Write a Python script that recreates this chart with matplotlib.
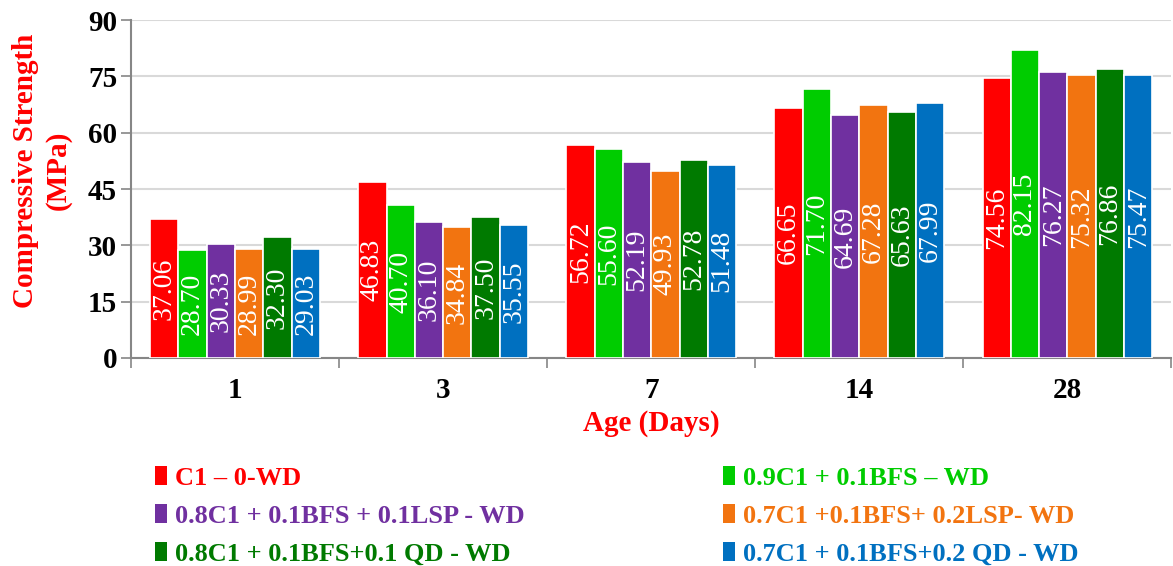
import matplotlib.pyplot as plt
import numpy as np
from matplotlib.patches import Patch

plt.rcParams['font.family'] = ['Liberation Serif', 'DejaVu Serif']

# 龄期与各配比抗压强度 (MPa)
ages = ["1", "3", "7", "14", "28"]
mixes = [
    "C1 – 0-WD",
    "0.9C1 + 0.1BFS – WD",
    "0.8C1 + 0.1BFS + 0.1LSP - WD",
    "0.7C1 +0.1BFS+ 0.2LSP- WD",
    "0.8C1 + 0.1BFS+0.1 QD - WD",
    "0.7C1 + 0.1BFS+0.2 QD - WD",
]
c1_0 = [37.06, 46.83, 56.72, 66.65, 74.56]
bfs_01 = [28.70, 40.70, 55.60, 71.70, 82.15]
lsp_01 = [30.33, 36.10, 52.19, 64.69, 76.27]
lsp_02 = [28.99, 34.84, 49.93, 67.28, 75.32]
qd_01 = [32.30, 37.50, 52.78, 65.63, 76.86]
qd_02 = [29.03, 35.55, 51.48, 67.99, 75.47]
series = [c1_0, bfs_01, lsp_01, lsp_02, qd_01, qd_02]
colors = ["#FF0000", "#00CC00", "#7030A0", "#F27410", "#007A00", "#0070C0"]

fig = plt.figure(figsize=(11.73, 5.66), dpi=100)
ax = fig.add_axes([0.1117, 0.3675, 0.887, 0.597])

x = np.arange(len(ages))
w = 0.136
for j, (vals, col) in enumerate(zip(series, colors)):
    pos = x + (j - 2.5) * w
    ax.bar(pos, vals, width=w, color=col, edgecolor="white", linewidth=1.2, zorder=3)
    for px, v in zip(pos, vals):
        ax.text(px, v / 2, f"{v:.2f}", rotation=90, ha="center", va="center",
                color="white", fontsize=20, zorder=4)

ax.set_xlim(-0.5, len(ages) - 0.5)
ax.set_ylim(0, 90)
ax.set_yticks(np.arange(0, 91, 15))
ax.yaxis.grid(True, color="#d9d9d9", linewidth=1.5, zorder=0)
ax.set_axisbelow(True)

ax.set_xticks(x)
ax.set_xticklabels(ages, fontsize=21, fontweight="bold")
ax.set_xticks(np.arange(-0.5, len(ages), 1), minor=True)
ax.tick_params(axis="x", which="major", length=0, pad=14)
ax.tick_params(axis="x", which="minor", length=7, color="#868686", width=1.2)
ax.tick_params(axis="y", length=7, color="#868686", width=1.2, labelsize=21, pad=3)
for lbl in ax.get_yticklabels():
    lbl.set_fontweight("bold")

for s in ["top", "right"]:
    ax.spines[s].set_visible(False)
for s in ["left", "bottom"]:
    ax.spines[s].set_color("#868686")
    ax.spines[s].set_linewidth(1.5)

ax.set_ylabel("Compressive Strength\n(MPa)", color="#FF0000", fontsize=21,
              fontweight="bold", linespacing=1.25)
ax.yaxis.set_label_coords(-0.057, 0.555)
ax.set_xlabel("Age (Days)", color="#FF0000", fontsize=21, fontweight="bold", labelpad=4)

# 图例按行排列：两列三行
order = [0, 2, 4, 1, 3, 5]
handles = [Patch(facecolor=colors[i], edgecolor="none") for i in order]
labels = [mixes[i] for i in order]
leg = fig.legend(handles, labels, ncol=2, loc="upper left", bbox_to_anchor=(0.1235, 0.195),
                 frameon=False, prop={"size": 19, "weight": "bold"},
                 handlelength=0.45, handleheight=0.7, handletextpad=0.3,
                 columnspacing=7.5, labelspacing=0.55, borderaxespad=0)
for t, i in zip(leg.get_texts(), order):
    t.set_color(colors[i])

fig.savefig("out.png", dpi=100)
